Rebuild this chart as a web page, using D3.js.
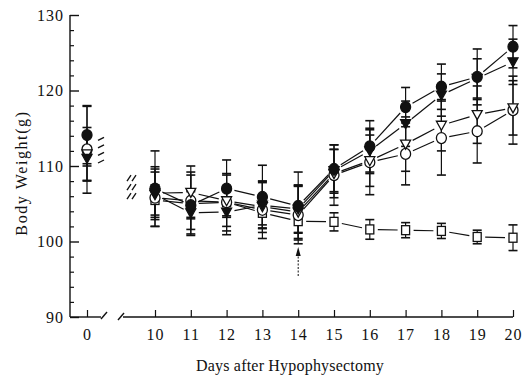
<!DOCTYPE html>
<html>
<head>
<meta charset="utf-8">
<script src="https://cdn.jsdelivr.net/npm/d3@7"></script>
<style>
  body { margin: 0; background: #fff; }
  svg { display: block; }
  text { font-family: "Liberation Serif", "Times New Roman", serif; fill: #111; }
</style>
</head>
<body>
<div id="main"></div>
<script>
var ctx = {
    w: 527,
    h: 376,
    stroke: "#111",
    capW: 9,
};

// days measured (0 = before surgery, then 10..20)
var days = [0, 10, 11, 12, 13, 14, 15, 16, 17, 18, 19, 20];

// mean body weights (g)
var filledCircle = [114.1, 107.0, 104.8, 107.0, 105.9, 104.7, 109.6, 112.6, 117.8, 120.5, 121.8, 125.8];
var filledTri    = [111.0, 106.2, 103.8, 103.9, 104.8, 104.3, 109.4, 112.0, 115.6, 119.4, 121.6, 123.8];
var openTri      = [111.6, 106.4, 106.5, 105.4, 104.6, 103.9, 109.0, 110.7, 112.9, 115.4, 116.8, 117.7];
var openCircle   = [112.2, 105.8, 105.4, 105.2, 104.2, 103.5, 108.8, 110.5, 111.6, 113.7, 114.6, 117.4];
var openSquare   = [112.0, 105.5, 105.0, 105.2, 103.8, 102.7, 102.6, 101.6, 101.5, 101.4, 100.6, 100.5];

// error bar half-lengths (g)
var filledCircleSD = [3.8, 5.0, 4.0, 3.8, 4.2, 4.5, 3.2, 3.4, 2.6, 3.0, 3.7, 2.8];
var filledTriSD    = [3.0, 3.0, 2.8, 3.0, 3.0, 3.2, 2.8, 3.0, 3.0, 2.8, 2.6, 3.0];
var openTriSD      = [3.5, 3.5, 3.5, 3.4, 3.4, 3.5, 3.2, 3.4, 3.6, 3.4, 3.8, 3.6];
var openCircleSD   = [5.8, 3.8, 3.8, 3.8, 3.8, 3.8, 4.0, 4.3, 4.1, 4.9, 4.2, 4.5];
var openSquareSD   = [2.0, 2.0, 1.8, 1.8, 1.6, 1.5, 1.2, 1.3, 1.0, 1.0, 0.9, 1.7];

var xTicks = [0, 10, 11, 12, 13, 14, 15, 16, 17, 18, 19, 20];
var yMajor = [90, 100, 110, 120, 130];
var yMinor = [92, 94, 96, 98, 102, 104, 106, 108, 112, 114, 116, 118, 122, 124, 126, 128];

// break marks next to the day 0 and day 10 points
var break0Levels = [113.6, 112.6, 111.6, 110.6];
var break10Levels = [108.4, 107.2, 106.0];

var arrowDay = 14;

var series = [
    { name: "sq",  values: openSquare,   sd: openSquareSD,   shape: "square",   fill: "#fff" },
    { name: "oc",  values: openCircle,   sd: openCircleSD,   shape: "circle",   fill: "#fff" },
    { name: "ot",  values: openTri,      sd: openTriSD,      shape: "triangle", fill: "#fff" },
    { name: "ft",  values: filledTri,    sd: filledTriSD,    shape: "triangle", fill: "#111" },
    { name: "fc",  values: filledCircle, sd: filledCircleSD, shape: "circle",   fill: "#111" }
];

var svg = d3.select("#main").append("svg")
    .attr("width", ctx.w)
    .attr("height", ctx.h);

// piecewise x scale: day 0 sits alone before the axis break
var x = d3.scaleLinear().domain([0, 10, 20]).range([87, 155, 513]);
var y = d3.scaleLinear().domain([90, 130]).range([317, 15]);
var x0 = 70, yBase = y(90);

// ---- y axis ----
svg.append("line")
    .attr("x1", x0).attr("x2", x0)
    .attr("y1", y(130)).attr("y2", yBase)
    .attr("stroke", ctx.stroke).attr("stroke-width", 1.4);

var yAx = svg.append("g")
    .attr("transform", "translate(" + x0 + ",0)")
    .call(d3.axisLeft(y).tickValues(yMajor).tickSize(-9).tickPadding(6)
        .tickFormat(d3.format("d")));
yAx.select(".domain").remove();
yAx.selectAll("line").attr("stroke", ctx.stroke).attr("stroke-width", 1.4);
yAx.selectAll("text").style("font-size", "16px").style("letter-spacing", "1px")
    .attr("font-family", null);

var yMin = svg.append("g")
    .attr("transform", "translate(" + x0 + ",0)")
    .call(d3.axisLeft(y).tickValues(yMinor).tickSize(-4).tickFormat(""));
yMin.select(".domain").remove();
yMin.selectAll("line").attr("stroke", ctx.stroke).attr("stroke-width", 1.2);

// ---- x axis with break ----
var xAx = svg.append("g")
    .attr("transform", "translate(0," + yBase + ")")
    .call(d3.axisBottom(x).tickValues(xTicks).tickSize(-7).tickPadding(12)
        .tickFormat(d3.format("d")));
xAx.select(".domain").remove();
xAx.selectAll("line").attr("stroke", ctx.stroke).attr("stroke-width", 1.2);
xAx.selectAll("text").style("font-size", "16px").style("letter-spacing", "1px")
    .attr("font-family", null);

var axisSegs = [
    [[x0, yBase], [101, yBase]],
    [[101, yBase + 2], [107, yBase - 5]],
    [[118, yBase + 3], [124, yBase - 4]],
    [[123, yBase], [x(20), yBase]]
];
svg.append("g").selectAll("line").data(axisSegs).enter().append("line")
    .attr("x1", function(d){ return d[0][0]; })
    .attr("y1", function(d){ return d[0][1]; })
    .attr("x2", function(d){ return d[1][0]; })
    .attr("y2", function(d){ return d[1][1]; })
    .attr("stroke", ctx.stroke).attr("stroke-width", 1.4);

// ---- axis titles ----
svg.append("text")
    .attr("x", 290).attr("y", 371)
    .attr("text-anchor", "middle")
    .style("font-size", "16px").style("letter-spacing", "0.2px")
    .text("Days after Hypophysectomy");

svg.append("text")
    .attr("transform", "translate(27," + 173 + ") rotate(-90)")
    .attr("text-anchor", "middle")
    .style("font-size", "16px").style("letter-spacing", "1.6px")
    .text("Body Weight(g)");

// ---- error bars ----
var errG = svg.append("g").attr("stroke", ctx.stroke).attr("stroke-width", 1.2);
series.forEach(function(s){
    days.forEach(function(d, i){
        var cx = x(d), lo = y(s.values[i] - s.sd[i]), hi = y(s.values[i] + s.sd[i]);
        errG.append("line").attr("x1", cx).attr("x2", cx).attr("y1", lo).attr("y2", hi);
        [lo, hi].forEach(function(yy){
            errG.append("line")
                .attr("x1", cx - ctx.capW / 2).attr("x2", cx + ctx.capW / 2)
                .attr("y1", yy).attr("y2", yy)
                .attr("stroke-width", 1.6);
        });
    });
});

// ---- connecting lines (days 10-20), with gaps near the markers ----
var lineG = svg.append("g").attr("stroke", ctx.stroke).attr("stroke-width", 1.2);
var gap = 8;
series.forEach(function(s){
    for (var i = 1; i < days.length - 1; i++) {
        var ax = x(days[i]), ay = y(s.values[i]);
        var bx = x(days[i + 1]), by = y(s.values[i + 1]);
        var dx = bx - ax, dy = by - ay, len = Math.sqrt(dx * dx + dy * dy);
        var ux = dx / len, uy = dy / len;
        lineG.append("line")
            .attr("x1", ax + ux * gap).attr("y1", ay + uy * gap)
            .attr("x2", bx - ux * gap).attr("y2", by - uy * gap);
    }
});

// ---- break marks ----
var brkG = svg.append("g").attr("stroke", ctx.stroke).attr("stroke-width", 1.3);
break0Levels.forEach(function(v){
    var cx = x(0) + 14, cy = y(v);
    brkG.append("line").attr("x1", cx - 3).attr("y1", cy + 1.5).attr("x2", cx + 3).attr("y2", cy - 1.5);
});
break10Levels.forEach(function(v){
    var cy = y(v);
    [x(10) - 26, x(10) - 21].forEach(function(cx){
        brkG.append("line").attr("x1", cx - 2).attr("y1", cy + 3).attr("x2", cx + 2).attr("y2", cy - 3);
    });
});

// ---- markers ----
var symG = svg.append("g");
series.forEach(function(s){
    days.forEach(function(d, i){
        var cx = x(d), cy = y(s.values[i]);
        var m;
        if (s.shape === "circle") {
            m = symG.append("ellipse").attr("cx", cx).attr("cy", cy).attr("rx", 5).attr("ry", 5.5);
        } else if (s.shape === "square") {
            m = symG.append("rect").attr("x", cx - 4).attr("y", cy - 4.5).attr("width", 8).attr("height", 9);
        } else {
            m = symG.append("path")
                .attr("d", "M" + (cx - 5) + "," + (cy - 4) + "L" + (cx + 5) + "," + (cy - 4) + "L" + cx + "," + (cy + 5) + "Z");
        }
        m.attr("fill", s.fill).attr("stroke", ctx.stroke).attr("stroke-width", 1.3);
    });
});

// ---- arrow marking day 14 ----
var ax14 = x(arrowDay);
svg.append("line")
    .attr("x1", ax14).attr("x2", ax14)
    .attr("y1", 276).attr("y2", 254)
    .attr("stroke", ctx.stroke).attr("stroke-width", 1)
    .attr("stroke-dasharray", "2,1.5");
svg.append("path")
    .attr("d", "M" + ax14 + ",247L" + (ax14 - 2.5) + ",256L" + (ax14 + 2.5) + ",256Z")
    .attr("fill", ctx.stroke);
</script>
</body>
</html>
